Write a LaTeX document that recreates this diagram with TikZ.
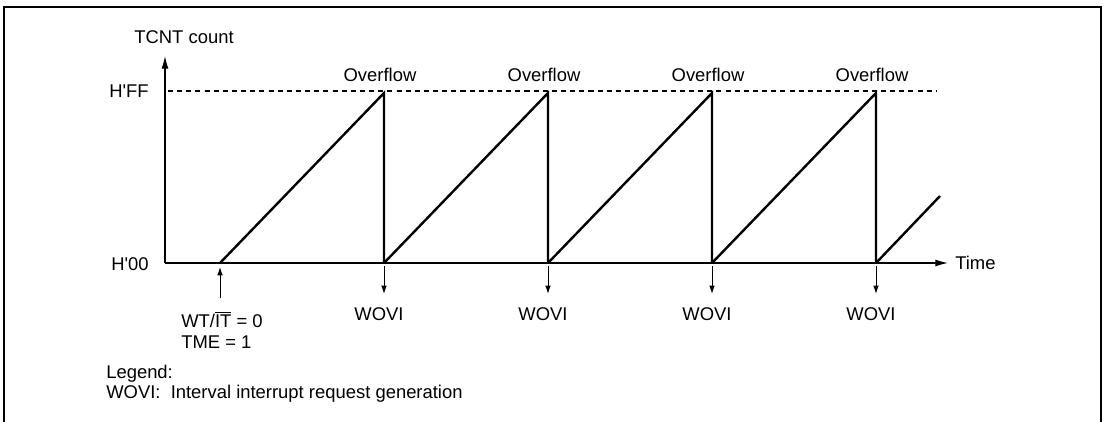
\documentclass[tikz,border=0pt]{standalone}
\usepackage{fontspec}
\setmainfont{Liberation Sans}
\usetikzlibrary{arrows.meta}
\tikzset{
  txt/.style={font=\fontsize{13.1}{16}\selectfont, inner sep=0pt},
  axis/.style={line width=0.9pt},
  ramp/.style={line width=1.7pt},
  pin/.style={line width=0.7pt, -{Latex[length=6pt,width=4pt]}},
}
\begin{document}
\begin{tikzpicture}[x=0.025cm,y=-0.025cm]
  \useasboundingbox (0,0) rectangle (1104,421);
  \draw[line width=1.6pt] (4,425) -- (4,7) -- (1101,7) -- (1101,425);
  % axes
  \coordinate (o) at (165,263);
  \coordinate (ytop) at (165,56);
  \coordinate (xend) at (948,263);
  \draw[axis,-{Latex[length=9pt,width=5pt]}] (o) -- (ytop);
  \draw[axis,-{Latex[length=9pt,width=5pt]}] (o) -- (xend);
  \node[txt] (tcnt) at (184,37) {TCNT count};
  \node[txt,anchor=east] (hff) at (149,91) {H\textquotesingle FF};
  \node[txt,anchor=east] (h00) at (149,264) {H\textquotesingle 00};
  \node[txt,anchor=west] (time) at (955,263) {Time};
  \coordinate (d0) at (168,91);
  \coordinate (d1) at (937,91);
  \draw[axis,dash pattern=on 3.6pt off 2.9pt] (d0) -- (d1);
  % counting ramps
  \foreach \k in {0,...,3} {
    \pgfmathsetmacro{\xa}{220+164*\k}
    \pgfmathsetmacro{\xb}{384+164*\k}
    \coordinate (s\k) at (\xa,263);
    \coordinate (p\k) at (\xb,93);
    \coordinate (b\k) at (\xb,263);
    \draw[ramp] (s\k) -- (p\k) -- (b\k);
    \node[txt] (ovf\k) at (\xb-4,75) {Overflow};
    \coordinate (w\k) at (\xb,266);
    \coordinate (wt\k) at (\xb,294);
    \draw[pin] (w\k) -- (wt\k);
    \node[txt] (wovi\k) at (\xb-5,314) {WOVI};
  }
  \coordinate (s4) at (876,263);
  \coordinate (e4) at (940,196);
  \draw[ramp] (s4) -- (e4);
  % start condition
  \coordinate (u0) at (220,298);
  \coordinate (u1) at (220,267);
  \draw[pin] (u0) -- (u1);
  \node[txt,anchor=base west] (wtit) at (181,327) {WT/$\overline{\hbox{IT}}$ = 0};
  \node[txt,anchor=base west] (tme) at (181,348) {TME = 1};
  % legend
  \node[txt,anchor=base west] (leg) at (106,378) {Legend:};
  \node[txt,anchor=base west] (legw) at (106,398) {WOVI:\ \ Interval interrupt request generation};
\end{tikzpicture}
\end{document}
